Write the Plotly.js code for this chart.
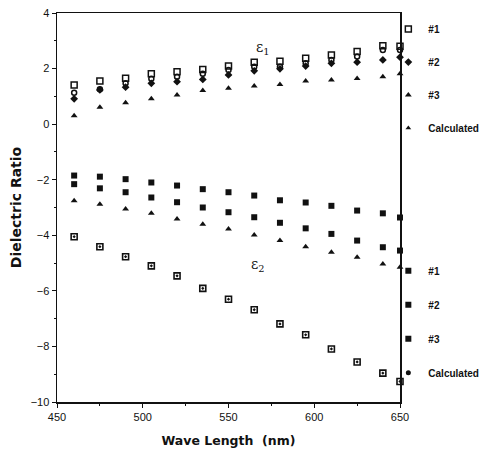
<!DOCTYPE html>
<html><head><meta charset="utf-8">
<script src="https://cdn.plot.ly/plotly-3.0.1.min.js"></script>
<style>html,body{margin:0;padding:0;background:#fff}#c{width:482px;height:453px}</style>
</head><body><div id="c"></div>
<script>
// Wavelengths (nm)
const wavelength = [460, 475, 490, 505, 520, 535, 550, 565, 580, 595, 610, 625, 640, 650];
// epsilon 1 (real part)
const e1_s1   = [1.41, 1.55, 1.65, 1.81, 1.89, 1.97, 2.09, 2.23, 2.26, 2.37, 2.49, 2.61, 2.82, 2.80];
const e1_calc = [1.13, 1.26, 1.47, 1.63, 1.71, 1.81, 1.95, 2.07, 2.07, 2.19, 2.31, 2.43, 2.67, 2.67];
const e1_s2   = [0.91, 1.23, 1.33, 1.47, 1.53, 1.61, 1.77, 1.92, 1.99, 2.09, 2.19, 2.23, 2.31, 2.41];
const e1_s3   = [0.30, 0.61, 0.77, 0.91, 1.05, 1.21, 1.29, 1.37, 1.43, 1.55, 1.59, 1.64, 1.71, 1.81];
// epsilon 2 (imaginary part)
const e2_s1   = [-1.85, -1.89, -1.98, -2.10, -2.21, -2.34, -2.45, -2.57, -2.74, -2.82, -2.94, -3.11, -3.21, -3.36];
const e2_s2   = [-2.16, -2.31, -2.45, -2.64, -2.81, -3.00, -3.17, -3.35, -3.55, -3.75, -3.95, -4.19, -4.43, -4.55];
const e2_s3   = [-2.76, -2.88, -3.05, -3.21, -3.41, -3.60, -3.77, -3.99, -4.19, -4.41, -4.61, -4.79, -5.03, -5.15];
const e2_calc = [-4.05, -4.41, -4.77, -5.10, -5.46, -5.91, -6.30, -6.68, -7.19, -7.58, -8.09, -8.56, -8.96, -9.26];

const legendNames = ['#1', '#2', '#3', 'Calculated'];

const K = '#111';
function pts(y, sym, size, lw, name) {
  return {type: 'scatter', mode: 'markers', x: wavelength, y: y, name: name, showlegend: false,
    marker: {symbol: sym, size: size, color: K, line: {color: K, width: lw}}, cliponaxis: false};
}
function leg(name, sym, size, lw, legendId, grp) {
  return {type: 'scatter', mode: 'markers', x: [null], y: [null], name: name, legend: legendId,
    legendgroup: grp, showlegend: true,
    marker: {symbol: sym, size: size, color: K, line: {color: K, width: lw}}};
}
const data = [
  pts(e1_s1, 'square-open', 6, 1.5, '#1'),
  pts(e1_calc, 'circle-open', 5, 1.5, 'Calculated'),
  pts(e1_s2, 'diamond', 6, 0, '#2'),
  pts(e1_s3, 'triangle-up', 6, 0, '#3'),
  pts(e2_s1, 'square', 6, 0, '#1'),
  pts(e2_s2, 'square', 6, 0, '#2'),
  pts(e2_s3, 'triangle-up', 6, 0, '#3'),
  pts(e2_calc, 'square-open-dot', 6, 1.6, 'Calculated'),
  leg(legendNames[0], 'square-open', 6, 1.5, 'legend', 'a1'),
  leg(legendNames[1], 'diamond', 6, 0, 'legend', 'a2'),
  leg(legendNames[2], 'triangle-up', 6, 0, 'legend', 'a3'),
  leg(legendNames[3], 'triangle-up', 5, 0, 'legend', 'a4'),
  leg(legendNames[0], 'square', 6, 0, 'legend2', 'b1'),
  leg(legendNames[1], 'square', 6, 0, 'legend2', 'b2'),
  leg(legendNames[2], 'square', 6, 0, 'legend2', 'b3'),
  leg(legendNames[3], 'circle', 5, 0, 'legend2', 'b4')
];
const legFont = {family: 'Liberation Sans, Arial, sans-serif', size: 10, color: K, weight: 'bold'};
const layout = {
  width: 482, height: 453,
  margin: {l: 57, r: 82, t: 13, b: 51, autoexpand: false},
  paper_bgcolor: '#fff', plot_bgcolor: '#fff',
  font: {family: 'Liberation Sans, Arial, sans-serif', color: K},
  xaxis: {range: [450, 650], dtick: 50, tick0: 450, showgrid: false, zeroline: false,
    showline: true, linecolor: K, linewidth: 1.5, mirror: true,
    ticks: 'outside', ticklen: 4, tickcolor: K, tickwidth: 1,
    minor: {dtick: 25, ticks: 'outside', ticklen: 2, tickcolor: K},
    tickfont: {size: 11, color: K},
    title: {text: 'Wave Length  (nm)', font: {family: 'DejaVu Sans, sans-serif', size: 12.5, weight: 'bold', color: K}, standoff: 14}},
  yaxis: {range: [-10, 4], dtick: 2, showgrid: false, zeroline: false,
    showline: true, linecolor: K, linewidth: 1.5, mirror: true,
    ticks: 'outside', ticklen: 4, tickcolor: K, tickwidth: 1,
    minor: {dtick: 1, ticks: 'outside', ticklen: 2, tickcolor: K},
    tickfont: {size: 11, color: K},
    title: {text: 'Dielectric Ratio', font: {family: 'DejaVu Sans, sans-serif', size: 14, weight: 'bold', color: K}, standoff: 5}},
  legend: {x: 0.966, xanchor: 'left', y: 0.996, yanchor: 'top', bgcolor: 'rgba(0,0,0,0)',
    font: legFont, tracegroupgap: 14, itemwidth: 30, traceorder: 'grouped'},
  legend2: {x: 0.966, xanchor: 'left', y: 0.375, yanchor: 'top', bgcolor: 'rgba(0,0,0,0)',
    font: legFont, tracegroupgap: 15, itemwidth: 30, traceorder: 'grouped'},
  annotations: [
    {x: 570, y: 2.74, xref: 'x', yref: 'y', text: 'ε<sub>1</sub>', showarrow: false,
      font: {family: 'DejaVu Serif, serif', size: 14, color: K}},
    {x: 567, y: -5.06, xref: 'x', yref: 'y', text: 'ε<sub>2</sub>', showarrow: false,
      font: {family: 'DejaVu Serif, serif', size: 14, color: K}}
  ]
};
Plotly.newPlot('c', data, layout, {displayModeBar: false, staticPlot: true});
</script></body></html>
